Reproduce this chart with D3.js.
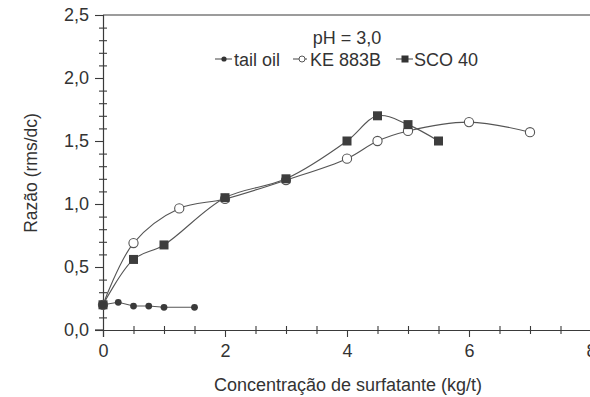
<!DOCTYPE html>
<html><head><meta charset="utf-8">
<script src="https://cdn.jsdelivr.net/npm/d3@7"></script>
<style>
html,body{margin:0;padding:0;background:#fff;}
svg{display:block;font-family:"Liberation Sans",Arial,Helvetica,sans-serif;}
</style></head>
<body><svg id="c" width="590" height="397"></svg>
<script>
// Data
const tailOilX = [0, 0.25, 0.5, 0.75, 1.0, 1.5];
const tailOilY = [0.20, 0.22, 0.19, 0.19, 0.18, 0.18];
const keX = [0, 0.5, 1.25, 2, 3, 4, 4.5, 5, 6, 7];
const keY = [0.20, 0.69, 0.965, 1.04, 1.19, 1.36, 1.50, 1.58, 1.65, 1.57];
const scoX = [0, 0.5, 1, 2, 3, 4, 4.5, 5, 5.5];
const scoY = [0.20, 0.56, 0.675, 1.05, 1.20, 1.50, 1.70, 1.63, 1.50];
const xTicks = [0, 2, 4, 6, 8];
const yTicks = [0, 0.5, 1.0, 1.5, 2.0, 2.5];
const seriesNames = ["tail oil", "KE 883B", "SCO 40"];
const title = "pH = 3,0";
const xLabel = "Concentração de surfatante (kg/t)";
const yLabel = "Razão (rms/dc)";

const svg = d3.select("#c");
const ink = "#3a3a3a";
const x = d3.scaleLinear().domain([0, 8]).range([103, 591]);
const y = d3.scaleLinear().domain([0, 2.5]).range([330, 15]);

// top frame line
svg.append("line").attr("x1", x(0)).attr("x2", 590).attr("y1", y(2.5)).attr("y2", y(2.5))
  .attr("stroke", ink).attr("stroke-width", 1.2);

// Y axis major
svg.append("g").attr("transform", `translate(${x(0)},0)`)
  .call(d3.axisLeft(y).tickValues(yTicks).tickSize(8).tickPadding(6)
    .tickFormat(d => d3.format(".1f")(d).replace(".", ",")));
// Y minor (crossing)
const yMinor = d3.range(0, 2.51, 0.1).map(v => +v.toFixed(2)).filter(v => !yTicks.some(t => Math.abs(t - v) < 1e-6));
svg.append("g").attr("transform", `translate(${x(0) + 4},0)`)
  .call(d3.axisLeft(y).tickValues(yMinor).tickSize(8).tickFormat(""))
  .call(g => g.select(".domain").remove());

// X axis major
svg.append("g").attr("transform", `translate(0,${y(0)})`)
  .call(d3.axisBottom(x).tickValues(xTicks).tickSize(7).tickPadding(7).tickFormat(d3.format("d")));
const xMinor = d3.range(0.5, 8, 0.5).filter(v => !xTicks.includes(v));
svg.append("g").attr("transform", `translate(0,${y(0) - 4})`)
  .call(d3.axisBottom(x).tickValues(xMinor).tickSize(8).tickFormat(""))
  .call(g => g.select(".domain").remove());

svg.selectAll(".domain").attr("stroke", ink).attr("stroke-width", 1.2);
svg.selectAll(".tick line").attr("stroke", ink).attr("stroke-width", 1.1);
svg.selectAll(".tick text").attr("fill", "#333").style("font-size", "18px")
  .style("font-family", '"Liberation Sans",Arial,sans-serif');
svg.append("line").attr("x1", x(0) - 8).attr("x2", x(0)).attr("y1", y(0)).attr("y2", y(0)).attr("stroke", ink).attr("stroke-width", 1.2);

// Lines
const lineColor = "#555";
const zip = (xs, ys) => xs.map((v, i) => [v, ys[i]]);
const tail = zip(tailOilX, tailOilY), ke = zip(keX, keY), sco = zip(scoX, scoY);
const smooth = d3.line().x(d => x(d[0])).y(d => y(d[1])).curve(d3.curveCatmullRom.alpha(0.5));
const straight = d3.line().x(d => x(d[0])).y(d => y(d[1]));
svg.append("path").datum(ke).attr("d", smooth).attr("fill", "none").attr("stroke", lineColor).attr("stroke-width", 1.1);
svg.append("path").datum(sco).attr("d", smooth).attr("fill", "none").attr("stroke", lineColor).attr("stroke-width", 1.1);
svg.append("path").datum(tail).attr("d", straight).attr("fill", "none").attr("stroke", lineColor).attr("stroke-width", 1.1);

// Markers
svg.append("g").selectAll("circle").data(ke).join("circle")
  .attr("cx", d => x(d[0])).attr("cy", d => y(d[1])).attr("r", 4.6)
  .attr("fill", "#fff").attr("stroke", "#555").attr("stroke-width", 1.1);
svg.append("g").selectAll("rect").data(sco).join("rect")
  .attr("x", d => x(d[0]) - 4.5).attr("y", d => y(d[1]) - 4.5).attr("width", 9).attr("height", 9)
  .attr("fill", "#3d3d3d");
svg.append("g").selectAll("circle").data(tail).join("circle")
  .attr("cx", d => x(d[0])).attr("cy", d => y(d[1])).attr("r", 3.4)
  .attr("fill", "#3a3a3a");

// Title & legend
svg.append("text").attr("x", 347).attr("y", 44).attr("text-anchor", "middle")
  .attr("fill", "#333").style("font-size", "18px").text(title);
const legY = 59;
const leg = [
  {cx: 224, tx: 234, type: "dot"},
  {cx: 302, tx: 310, type: "open"},
  {cx: 405, tx: 414, type: "sq"}
];
leg.forEach((l, i) => {
  svg.append("line").attr("x1", l.cx - 9).attr("x2", l.cx + (i === 1 ? 5 : 8)).attr("y1", legY).attr("y2", legY)
    .attr("stroke", lineColor).attr("stroke-width", 1.1);
  if (l.type === "dot") svg.append("circle").attr("cx", l.cx).attr("cy", legY).attr("r", 2.6).attr("fill", "#333");
  if (l.type === "open") svg.append("circle").attr("cx", l.cx).attr("cy", legY).attr("r", 3).attr("fill", "#fff").attr("stroke", "#555");
  if (l.type === "sq") svg.append("rect").attr("x", l.cx - 3.5).attr("y", legY - 3.5).attr("width", 7).attr("height", 7).attr("fill", "#333");
  svg.append("text").attr("x", l.tx).attr("y", legY + 6.5).attr("fill", "#333").style("font-size", "18px").text(seriesNames[i]);
});

// Axis labels
svg.append("text").attr("x", 348).attr("y", 391).attr("text-anchor", "middle")
  .attr("fill", "#333").style("font-size", "18px").text(xLabel);
svg.append("text").attr("transform", "translate(37,173) rotate(-90)").attr("text-anchor", "middle")
  .attr("fill", "#333").style("font-size", "17.5px").text(yLabel);
</script></body></html>
